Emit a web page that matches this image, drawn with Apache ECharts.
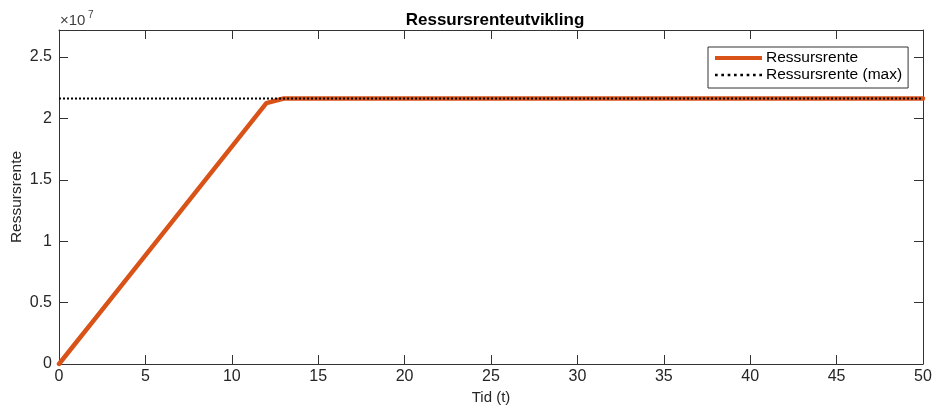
<!DOCTYPE html>
<html>
<head>
<meta charset="utf-8">
<script src="https://cdn.jsdelivr.net/npm/echarts@6/dist/echarts.min.js"></script>
<style>
html,body{margin:0;padding:0;background:#fff;}
#c{width:936px;height:412px;}
</style>
</head>
<body>
<div id="c"></div>
<script>
var titleText = 'Ressursrenteutvikling';
var xName = 'Tid (t)';
var yName = 'Ressursrente';
var seriesNames = ['Ressursrente', 'Ressursrente (max)'];
var tid = [0,1,2,3,4,5,6,7,8,9,10,11,12,13,14,15,16,17,18,19,20,21,22,23,24,25,26,27,28,29,30,31,32,33,34,35,36,37,38,39,40,41,42,43,44,45,46,47,48,49,50];
var ressursrente = [0,1770000,3540000,5310000,7080000,8850000,10620000,12390000,14160000,15930000,17700000,19470000,21240000,21620000,21620000,21620000,21620000,21620000,21620000,21620000,21620000,21620000,21620000,21620000,21620000,21620000,21620000,21620000,21620000,21620000,21620000,21620000,21620000,21620000,21620000,21620000,21620000,21620000,21620000,21620000,21620000,21620000,21620000,21620000,21620000,21620000,21620000,21620000,21620000,21620000,21620000];
var maxTid = [0, 50];
var maxVerdi = [21620000, 21620000];
var yTickLabels = ['0','0.5','1','1.5','2','2.5'];

var font = 'Liberation Sans, Arial, Helvetica, sans-serif';
var axisColor = '#333333';
var textColor = '#262626';

// dotted legend icon: 8 small squares
var dotPath = 'path://';
for (var k = 0; k < 8; k++) {
  var x0 = k * 6.2;
  dotPath += 'M' + x0 + ',0 L' + (x0 + 2.6) + ',0 L' + (x0 + 2.6) + ',2.6 L' + x0 + ',2.6 Z ';
}

var chart = echarts.init(document.getElementById('c'), null, {renderer:'canvas'});
function xAxisBase(pos) {
  return {
    type:'value', min:0, max:50, interval:5, position:pos,
    axisLine:{show:true, onZero:false, lineStyle:{color:axisColor, width:1}},
    axisTick:{show:true, inside:true, length:9, lineStyle:{color:axisColor}},
    splitLine:{show:false}
  };
}
function yAxisBase(pos) {
  return {
    type:'value', min:0, max:27200000, interval:5000000, position:pos,
    axisLine:{show:true, onZero:false, lineStyle:{color:axisColor, width:1}},
    axisTick:{show:true, inside:true, length:9, lineStyle:{color:axisColor}},
    splitLine:{show:false}
  };
}
var option = {
  backgroundColor:'#ffffff',
  animation:false,
  title:{
    text:titleText, left:490, top:7, textAlign:'center',
    textStyle:{fontFamily:font, fontSize:17, fontWeight:'bold', color:'#000'}
  },
  graphic:[{
    type:'text', left:60, top:13,
    style:{text:'×10', fontFamily:font, fontSize:15, fill:'#404040'}
  },{
    type:'text', left:88, top:10,
    style:{text:'7', fontFamily:font, fontSize:10, fill:'#404040'}
  },{
    type:'text', x:17, y:197, rotation:Math.PI/2,
    style:{text:yName, fontFamily:font, fontSize:15.5, fill:textColor,
           align:'center', verticalAlign:'middle'}
  }],
  legend:{
    left:708, top:47,
    orient:'vertical',
    itemWidth:47, itemHeight:14, itemGap:1,
    padding:[3,6,5,7],
    borderColor:axisColor, borderWidth:1, backgroundColor:'#fff',
    textStyle:{fontFamily:font, fontSize:15.5, color:'#000', padding:[0,0,0,-1]},
    data:[{name:seriesNames[0], icon:'path://M0,0 L47,0 L47,4 L0,4 Z', itemStyle:{color:'#D95319'}},
          {name:seriesNames[1], icon:dotPath, itemStyle:{color:'#000'}}]
  },
  grid:{left:59, right:13, top:30, bottom:48, containLabel:false, outerBoundsMode:'none'},
  xAxis:[
    Object.assign(xAxisBase('bottom'), {
      name:xName, nameLocation:'middle', nameGap:25,
      nameTextStyle:{fontFamily:font, fontSize:15, color:textColor},
      axisLabel:{fontFamily:font, fontSize:16, color:textColor, margin:5}
    }),
    Object.assign(xAxisBase('top'), {axisLabel:{show:false}})
  ],
  yAxis:[
    Object.assign(yAxisBase('left'), {
      axisLabel:{fontFamily:font, fontSize:16, color:textColor, margin:7,
        formatter:function(v){
          var i = Math.round(v/5000000);
          if (Math.abs(v - i*5000000) > 1) return '';
          return yTickLabels[i] !== undefined ? yTickLabels[i] : '';
        }}
    }),
    Object.assign(yAxisBase('right'), {axisLabel:{show:false}})
  ],
  series:[
    {
      name:seriesNames[0], type:'line', xAxisIndex:0, yAxisIndex:0,
      data:tid.map(function(t,i){return [t, ressursrente[i]];}),
      showSymbol:false, symbol:'none',
      lineStyle:{color:'#D95319', width:4.5, cap:'round', join:'round'},
      itemStyle:{color:'#D95319'},
      z:2
    },
    {
      name:seriesNames[1], type:'line', xAxisIndex:0, yAxisIndex:0,
      data:maxTid.map(function(t,i){return [t, maxVerdi[i]];}),
      showSymbol:false, symbol:'none',
      lineStyle:{color:'#000', width:2, type:[2,2]},
      itemStyle:{color:'#000'},
      z:3
    }
  ]
};
chart.setOption(option);
</script>
</body>
</html>
